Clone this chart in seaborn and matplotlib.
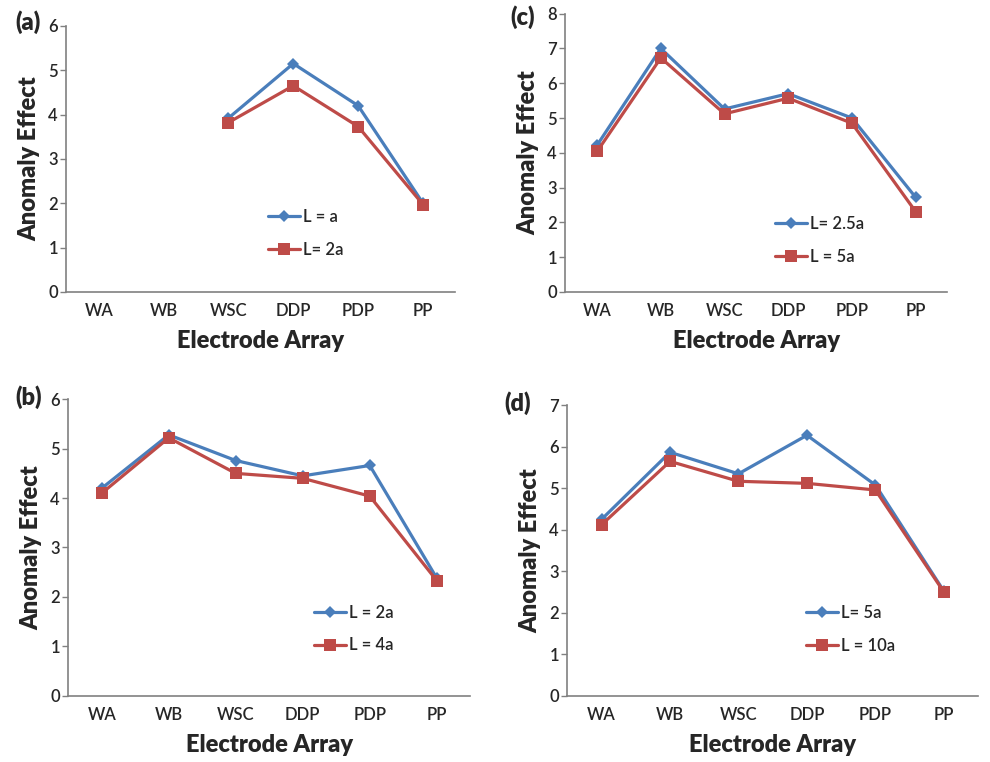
import numpy as np
import pandas as pd
import matplotlib
matplotlib.use('Agg')
import matplotlib.pyplot as plt
import seaborn as sns

categories = ['WA', 'WB', 'WSC', 'DDP', 'PDP', 'PP']

# (a)
a_blue = [np.nan, np.nan, 3.92, 5.15, 4.2, 2.0]
a_red = [np.nan, np.nan, 3.82, 4.65, 3.73, 1.97]
# (b)
b_blue = [4.2, 5.28, 4.76, 4.45, 4.66, 2.38]
b_red = [4.1, 5.22, 4.5, 4.4, 4.04, 2.33]
# (c)
c_blue = [4.22, 7.0, 5.26, 5.7, 5.0, 2.72]
c_red = [4.04, 6.73, 5.12, 5.57, 4.85, 2.31]
# (d)
d_blue = [4.25, 5.87, 5.35, 6.28, 5.08, 2.52]
d_red = [4.12, 5.65, 5.17, 5.12, 4.96, 2.5]

# label, series, legend names, ymax, axes rect, legend anchor, panel-label position
panels = [
    ('(a)', a_blue, a_red, 'L = a', 'L= 2a', 6, [0.067, 0.617, 0.393, 0.349], (0.48, 0.22), (0.028, 0.971)),
    ('(c)', c_blue, c_red, 'L= 2.5a', 'L = 5a', 8, [0.571, 0.617, 0.386, 0.365], (0.51, 0.185), (0.528, 0.978)),
    ('(b)', b_blue, b_red, 'L = 2a', 'L = 4a', 6, [0.069, 0.087, 0.406, 0.389], (0.575, 0.225), (0.029, 0.479)),
    ('(d)', d_blue, d_red, 'L= 5a', 'L = 10a', 7, [0.573, 0.087, 0.415, 0.381], (0.545, 0.228), (0.523, 0.471)),
]

blue = '#4a7ebb'
red = '#be4b48'

sns.set_style('white')
plt.rcParams['font.family'] = ['Lato', 'DejaVu Sans']

fig = plt.figure(figsize=(9.9, 7.62), dpi=100)

for label, s1, s2, n1, n2, ymax, pos, leg_xy, lab_xy in panels:
    ax = fig.add_axes(pos)
    df = pd.DataFrame({
        'pos': list(range(len(categories))) * 2,
        'value': s1 + s2,
        'series': [n1] * len(categories) + [n2] * len(categories),
    })
    sns.lineplot(data=df, x='pos', y='value', hue='series', style='series',
                 palette={n1: blue, n2: red}, markers={n1: 'D', n2: 's'},
                 dashes=False, linewidth=2.3, markersize=8, markeredgewidth=0,
                 ax=ax)
    for ln in ax.lines:
        if ln.get_marker() == 'D':
            ln.set_markersize(6)
    ax.set_xlim(-0.5, len(categories) - 0.5)
    ax.set_ylim(0, ymax)
    ax.set_yticks(range(0, ymax + 1))
    ax.set_xticks(range(len(categories)))
    ax.set_xticklabels(categories)
    ax.tick_params(axis='x', length=0, labelsize=12, pad=8)
    ax.tick_params(axis='y', length=4, width=1, color='#808080', labelsize=12, left=True, pad=2)
    for t in ax.get_xticklabels() + ax.get_yticklabels():
        t.set_fontweight('semibold')
    ax.set_xlabel('Electrode Array', fontsize=17, fontweight='heavy', labelpad=8)
    ax.set_ylabel('Anomaly Effect', fontsize=17, fontweight='heavy', labelpad=6)
    sns.despine(ax=ax)
    for sp in ['left', 'bottom']:
        ax.spines[sp].set_color('#808080')
        ax.spines[sp].set_linewidth(1.2)
    sns.move_legend(ax, loc='center left', bbox_to_anchor=leg_xy, frameon=False,
                    title=None, fontsize=12, handlelength=1.9, labelspacing=1.0,
                    handletextpad=0.2)
    for t in ax.get_legend().get_texts():
        t.set_fontweight('semibold')
    for ln in ax.get_legend().get_lines():
        if ln.get_marker() == 'D':
            ln.set_markersize(6)
    fig.text(lab_xy[0], lab_xy[1], label, fontsize=17, fontweight='heavy',
             ha='center', va='center')

fig.savefig('out.png', dpi=100)
